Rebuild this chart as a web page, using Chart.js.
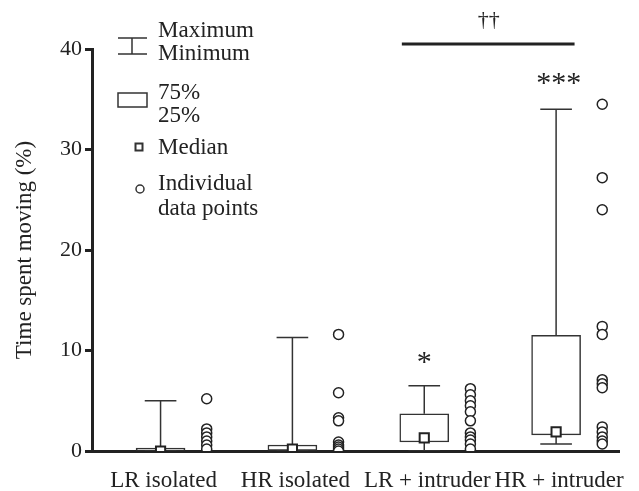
<!DOCTYPE html>
<html>
<head>
<meta charset="utf-8">
<script src="https://cdn.jsdelivr.net/npm/chart.js@4.4.1/dist/chart.umd.min.js"></script>
<style>
  body { margin: 0; background: #fff; }
</style>
</head>
<body>
<canvas id="myChart" width="639" height="491"></canvas>
<script>
// group labels and box-plot summary values (time spent moving, %)
const categories = ['LR isolated', 'HR isolated', 'LR + intruder', 'HR + intruder'];
const mins = [0, 0, 0, 0.7];
const q1s = [0, 0, 0.9, 1.6];
const medians = [0, 0.2, 1.3, 1.9];
const q3s = [0.3, 0.6, 3.7, 11.5];
const maxs = [5.0, 11.3, 6.5, 34.0];

// individual animals
const lrIsolated = [5.2, 2.2, 1.8, 1.4, 1.0, 0.6, 0.2];
const hrIsolated = [11.6, 5.8, 3.3, 3.0, 0.9, 0.6, 0.4, 0.2, 0.0];
const lrIntruder = [6.2, 5.6, 5.0, 4.5, 3.9, 3.0, 1.8, 1.4, 1.1, 0.7, 0.2];
const hrIntruder = [34.5, 27.2, 24.0, 12.4, 11.6, 7.1, 6.7, 6.3, 2.4, 1.9, 1.4, 1.0, 0.7];
const individual = [lrIsolated, hrIsolated, lrIntruder, hrIntruder];

// y axis ticks
const yTicks = [0, 10, 20, 30, 40];

// significance marks
const sigBar = { from: 1.83, to: 3.14, y: 40.5 };
const marks = [
  { x: 2, y: 9.4, text: '*' },
  { x: 3.02, y: 37.2, text: '***' },
  { x: 2.49, y: 42.9, text: '\u2020\u2020' },
];

const capHalf = 0.12;
const pointShift = 0.35;

// build datasets from the arrays
const whiskerData = [];
categories.forEach((c, i) => {
  whiskerData.push(
    { x: i, y: q3s[i] }, { x: i, y: maxs[i] }, { x: i, y: null },
    { x: i - capHalf, y: maxs[i] }, { x: i + capHalf, y: maxs[i] }, { x: i, y: null },
    { x: i, y: q1s[i] }, { x: i, y: mins[i] }, { x: i, y: null },
    { x: i - capHalf, y: mins[i] }, { x: i + capHalf, y: mins[i] }, { x: i, y: null }
  );
});
const boxData = categories.map((c, i) => ({ x: i, y: [q1s[i], q3s[i]] }));
const medianData = categories.map((c, i) => ({ x: i, y: medians[i] }));
const pointData = [];
individual.forEach((vals, i) => vals.forEach((v) => pointData.push({ x: i + pointShift, y: v })));

const serif = '"Liberation Serif", "Times New Roman", serif';
const ink = '#222';

// star / dagger labels placed through the scales
const marksPlugin = {
  id: 'marks',
  afterDatasetsDraw(chart) {
    const { ctx, scales } = chart;
    ctx.save();
    ctx.fillStyle = ink;
    ctx.textAlign = 'center';
    ctx.textBaseline = 'middle';
    marks.forEach((m) => {
      const px = scales.x.getPixelForValue(m.x);
      const py = scales.y.getPixelForValue(m.y);
      if (m.text.startsWith('*')) {
        ctx.font = '30px ' + serif;
        ctx.fillText(m.text, px, py + 7);
      } else {
        ctx.font = '22px ' + serif;
        ctx.fillText(m.text, px, py);
      }
    });
    ctx.restore();
  },
};

// key in the upper left corner
const keyPlugin = {
  id: 'key',
  afterDraw(chart) {
    const { ctx } = chart;
    ctx.save();
    ctx.strokeStyle = '#333';
    ctx.lineWidth = 1.5;
    ctx.beginPath();
    ctx.moveTo(118, 38); ctx.lineTo(147, 38);
    ctx.moveTo(118, 54); ctx.lineTo(147, 54);
    ctx.moveTo(132, 38); ctx.lineTo(132, 54);
    ctx.stroke();
    ctx.strokeRect(118, 93, 29, 14);
    ctx.lineWidth = 2;
    ctx.strokeRect(135.5, 143.5, 7, 7);
    ctx.lineWidth = 1.5;
    ctx.beginPath();
    ctx.arc(140, 189, 4, 0, Math.PI * 2);
    ctx.stroke();

    ctx.fillStyle = ink;
    ctx.font = '23px ' + serif;
    ctx.textAlign = 'left';
    ctx.textBaseline = 'middle';
    const lines = [
      ['Maximum', 31], ['Minimum', 54],
      ['75%', 93], ['25%', 116],
      ['Median', 148],
      ['Individual', 184], ['data points', 209],
    ];
    lines.forEach(([t, y]) => ctx.fillText(t, 158, y));
    ctx.restore();
  },
};

const canvas = document.getElementById('myChart');

const chart = new Chart(canvas, {
  type: 'scatter',
  data: {
    datasets: [
      {
        type: 'line',
        label: 'whiskers',
        data: whiskerData,
        borderColor: '#333',
        borderWidth: 1.5,
        pointRadius: 0,
        spanGaps: false,
        order: 3,
      },
      {
        type: 'bar',
        label: 'boxes',
        data: boxData,
        backgroundColor: '#fff',
        borderColor: '#333',
        borderWidth: 1.5,
        borderSkipped: false,
        barThickness: 49,
        order: 2,
      },
      {
        type: 'scatter',
        label: 'median',
        data: medianData,
        pointStyle: 'rect',
        pointRadius: 6.5,
        backgroundColor: '#fff',
        borderColor: ink,
        borderWidth: 2,
        order: 1,
      },
      {
        type: 'scatter',
        label: 'individual',
        data: pointData,
        pointRadius: 5,
        backgroundColor: '#fff',
        borderColor: ink,
        borderWidth: 1.5,
        order: 0,
      },
      {
        type: 'line',
        label: 'significance',
        data: [{ x: sigBar.from, y: sigBar.y }, { x: sigBar.to, y: sigBar.y }],
        borderColor: ink,
        borderWidth: 3,
        pointRadius: 0,
        clip: false,
        order: 4,
      },
    ],
  },
  options: {
    responsive: false,
    animation: false,
    layout: {
      padding: { top: 49, right: 19, left: 0, bottom: 0 },
    },
    plugins: {
      legend: { display: false },
      tooltip: { enabled: false },
    },
    scales: {
      x: {
        type: 'linear',
        min: -0.52,
        max: 3.48,
        offset: false,
        grid: { display: false, drawTicks: false },
        border: { display: true, color: ink, width: 3 },
        afterBuildTicks: (scale) => { scale.ticks = categories.map((c, i) => ({ value: i })); },
        ticks: {
          autoSkip: false,
          maxRotation: 0,
          padding: 16,
          labelOffset: 3,
          color: ink,
          font: { family: serif, size: 23 },
          callback: (v) => categories[Math.round(v)],
        },
        afterFit: (scale) => { scale.height = 40; },
      },
      y: {
        min: 0,
        max: 40,
        grid: {
          drawOnChartArea: false,
          drawTicks: true,
          tickLength: 7,
          tickWidth: 3,
          color: ink,
        },
        border: { display: true, color: ink, width: 3 },
        afterBuildTicks: (scale) => { scale.ticks = yTicks.map((v) => ({ value: v })); },
        ticks: {
          padding: 3,
          color: ink,
          font: { family: serif, size: 22 },
        },
        title: {
          display: true,
          text: 'Time spent moving (%)',
          color: ink,
          font: { family: serif, size: 23 },
          padding: { top: 11, bottom: 0 },
        },
        afterFit: (scale) => { scale.width = 92; },
      },
    },
  },
  plugins: [marksPlugin, keyPlugin],
});
</script>
</body>
</html>
